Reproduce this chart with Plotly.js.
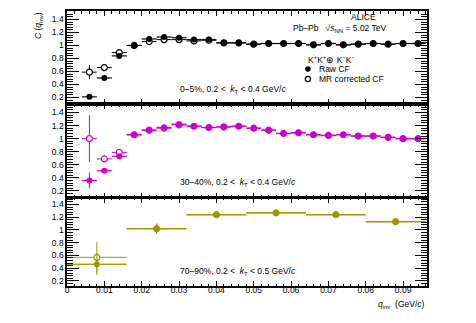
<!DOCTYPE html>
<html><head><meta charset="utf-8">
<script src="https://cdn.plot.ly/plotly-3.0.1.min.js"></script>
<style>html,body{margin:0;padding:0;background:#fff}#c{width:476px;height:323px}</style>
</head><body><div id="c"></div>
<script>
// bin centres (GeV/c)
const qNarrow = [0.006,0.010,0.014,0.018,0.022,0.026,0.030,0.034,0.038,0.042,0.046,0.050,0.054,0.058,0.062,0.066,0.070,0.074,0.078,0.082,0.086,0.090,0.094];
const qWide = [0.008,0.024,0.040,0.056,0.072,0.088];
// 0-5%
const raw05 = [0.21,0.50,0.84,1.00,1.10,1.13,1.12,1.09,1.09,1.04,1.04,1.02,1.03,1.03,1.03,1.01,1.03,1.01,1.02,1.03,1.02,1.03,1.03];
const raw05Err = [0.02,0.02,0.02,0.02,0.02,0.015,0.015,0.01,0.01,0.01,0.01,0.01,0.01,0.01,0.01,0.01,0.01,0.01,0.01,0.01,0.01,0.01,0.01];
const mr05 = [0.59,0.66,0.89,1.00,1.06,1.09,1.09,1.07,1.08,1.04,1.04,1.02,1.03,1.03,1.03,1.01,1.03,1.01,1.02,1.03,1.02,1.03,1.03];
const mr05Err = [0.11,0.03,0.03,0.02,0.02,0.015,0.015,0.01,0.01,0.01,0.01,0.01,0.01,0.01,0.01,0.01,0.01,0.01,0.01,0.01,0.01,0.01,0.01];
// 30-40%
const raw3040 = [0.36,0.51,0.73,1.06,1.13,1.17,1.22,1.19,1.17,1.18,1.19,1.16,1.13,1.08,1.09,1.06,1.05,1.06,1.04,1.04,1.02,1.00,1.00];
const raw3040Err = [0.12,0.04,0.03,0.02,0.02,0.02,0.015,0.015,0.01,0.01,0.01,0.01,0.01,0.01,0.01,0.01,0.01,0.01,0.01,0.01,0.01,0.01,0.01];
const mr3040 = [1.00,0.69,0.79,1.06,1.13,1.16,1.21,1.19,1.17,1.18,1.19,1.16,1.13,1.08,1.09,1.06,1.05,1.06,1.04,1.04,1.02,1.00,1.00];
const mr3040Err = [0.36,0.05,0.03,0.02,0.02,0.02,0.015,0.015,0.01,0.01,0.01,0.01,0.01,0.01,0.01,0.01,0.01,0.01,0.01,0.01,0.01,0.01,0.01];
// 70-90%
const raw7090 = [0.46,1.02,1.24,1.27,1.24,1.13];
const raw7090Err = [0.17,0.08,0.03,0.02,0.02,0.02];
const mr7090 = [0.57,1.02,1.24,1.27,1.24,1.13];
const mr7090Err = [0.24,0.08,0.03,0.02,0.02,0.02];
// systematic half-heights
const sysNarrow = 0.015, sysWide = 0.012;

const black = '#000000', mag = '#cc00cc', olive = '#999900';
const FONT = 'Liberation Sans, Arial, Helvetica, sans-serif';

function sysBars(x, y, half, width, color, xa, ya){
  return {type:'bar', x:x, y:y.map(()=>2*half), base:y.map(v=>v-half), width:x.map(()=>width),
    marker:{color:color, line:{width:0}}, xaxis:xa, yaxis:ya, showlegend:false, hoverinfo:'skip'};
}
function pts(x, y, err, xerr, color, open, xa, ya){
  return {type:'scatter', mode:'markers', x:x, y:y, xaxis:xa, yaxis:ya, showlegend:false,
    error_y:{type:'data', array:err, color:color, thickness:1, width:0},
    error_x:{type:'constant', value:xerr, color:color, thickness:1, width:0},
    marker:{symbol:'circle', size:6, color: open ? '#ffffff' : color, line:{color:color, width: open?1.2:0}}};
}

const traces = [
  sysBars(qNarrow, raw05, sysNarrow, 0.004, 'rgba(150,150,150,0.45)', 'x3', 'y'),
  pts(qNarrow, mr05, mr05Err, 0.002, black, true, 'x3', 'y'),
  pts(qNarrow, raw05, raw05Err, 0.002, black, false, 'x3', 'y'),
  sysBars(qNarrow, raw3040, sysNarrow, 0.004, 'rgba(230,120,230,0.6)', 'x2', 'y2'),
  pts(qNarrow, mr3040, mr3040Err, 0.002, mag, true, 'x2', 'y2'),
  pts(qNarrow, raw3040, raw3040Err, 0.002, mag, false, 'x2', 'y2'),
  sysBars(qWide, raw7090, sysWide, 0.016, 'rgba(190,190,60,0.75)', 'x', 'y3'),
  pts(qWide, mr7090, mr7090Err, 0.008, olive, true, 'x', 'y3'),
  pts(qWide, raw7090, raw7090Err, 0.008, olive, false, 'x', 'y3')
];

const tf = {family:FONT, size:8.5, color:'#000'};
function xax(anchor, labels){
  const a = {range:[0,0.0964], anchor:anchor, showline:true, linecolor:'#000', linewidth:1.6, mirror:'allticks',
    ticks:'inside', ticklen:5, tickwidth:1, tickcolor:'#000', dtick:0.01, tick0:0,
    minor:{dtick:0.002, ticklen:2.5, tickwidth:1, tickcolor:'#000', ticks:'inside'},
    showgrid:false, zeroline:false, showticklabels:labels, tickfont:tf, fixedrange:true,
    ticklabelstandoff:-5};
  if (anchor !== 'y3') a.matches = 'x';
  return a;
}
function yax(domain, range){
  return {domain:domain, range:range, anchor:'x', showline:true, linecolor:'#000', linewidth:1.6, mirror:'allticks',
    ticks:'inside', ticklen:12, tickwidth:1, tickcolor:'#000', dtick:0.2, tick0:0.2,
    minor:{dtick:0.04, ticklen:6, tickwidth:1, tickcolor:'#000', ticks:'inside'},
    showgrid:false, zeroline:false, tickfont:tf, fixedrange:true};
}

const W = 359.7, H = 275, L = 67, T = 11;
const px = v => (v - L)/W;
const py = v => (T + H - v)/H;

const ann = (x, y, text, xanchor, opts={}) => Object.assign({xref:'paper', yref:'paper', x:px(x), y:py(y), text:text,
  showarrow:false, xanchor:xanchor, yanchor:'middle', font:{family:FONT, size:8.5, color:'#000'}}, opts);

const annotations = [
  ann(363, 17, 'ALICE', 'center'),
  ann(291, 29, 'Pb–Pb   √<i>s</i><sub>NN</sub> = 5.02 TeV', 'left'),
  ann(306, 59, 'K<sup>+</sup>K<sup>+</sup>⊕ K<sup>−</sup>K<sup>−</sup>', 'left'),
  ann(317, 69, 'Raw CF', 'left'),
  ann(317, 79, 'MR corrected CF', 'left'),
  ann(178, 90, '0–5%, 0.2 <  <i>k</i><sub>T</sub> < 0.4 GeV/<i>c</i>', 'left'),
  ann(178, 182, '30–40%, 0.2 <  <i>k</i><sub>T</sub> < 0.4 GeV/<i>c</i>', 'left'),
  ann(178, 271, '70–90%, 0.2 <  <i>k</i><sub>T</sub> < 0.5 GeV/<i>c</i>', 'left'),
  ann(427, 304, '<i>q</i><sub>inv</sub>  (GeV/<i>c</i>)', 'right'),
  ann(38, 25, '<i>C</i> (<i>q</i><sub>inv</sub>)', 'center', {textangle:-90})
];

const shapes = [
  {type:'circle', xref:'paper', yref:'paper', xsizemode:'pixel', ysizemode:'pixel',
   xanchor:px(307.7), yanchor:py(69), x0:-2.8, x1:2.8, y0:-2.8, y1:2.8, fillcolor:'#000', line:{color:'#000', width:0}},
  {type:'circle', xref:'paper', yref:'paper', xsizemode:'pixel', ysizemode:'pixel',
   xanchor:px(307.7), yanchor:py(79), x0:-2.6, x1:2.6, y0:-2.6, y1:2.6, fillcolor:'#fff', line:{color:'#000', width:1.2}}
];

const layout = {
  width:476, height:323, margin:{l:L, r:476-L-W, t:T, b:323-T-H, pad:0},
  paper_bgcolor:'#fff', plot_bgcolor:'#fff', showlegend:false, barmode:'overlay',
  font:{family:FONT, size:8.5, color:'#000'},
  xaxis: xax('y3', true),
  xaxis2: xax('y2', false),
  xaxis3: xax('y', false),
  yaxis: Object.assign(yax([0.6618,1], [0.1,1.53]), {anchor:'x3'}),
  yaxis2: Object.assign(yax([0.3218,0.6618], [0.1,1.53]), {anchor:'x2'}),
  yaxis3: Object.assign(yax([0,0.3218], [0.12,1.51]), {anchor:'x'}),
  annotations: annotations, shapes: shapes
};

Plotly.newPlot('c', traces, layout, {staticPlot:true, displayModeBar:false});
</script></body></html>
